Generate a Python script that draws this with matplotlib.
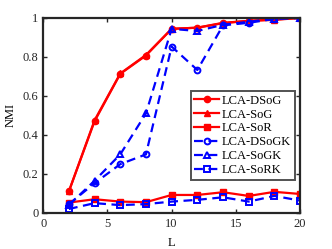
import matplotlib
matplotlib.use("Agg")
import matplotlib.pyplot as plt

plt.rcParams['font.family'] = ['Liberation Serif', 'DejaVu Serif']

# data
L = [2, 4, 6, 8, 10, 12, 14, 16, 18, 20]
dsog = [0.11, 0.47, 0.713, 0.807, 0.944, 0.95, 0.975, 0.985, 0.992, 1.0]
sog = [0.11, 0.475, 0.715, 0.81, 0.944, 0.95, 0.973, 0.985, 0.99, 1.0]
sor = [0.053, 0.07, 0.058, 0.055, 0.092, 0.092, 0.106, 0.087, 0.108, 0.097]
dsogk = [0.045, 0.152, 0.25, 0.30, 0.853, 0.733, 0.962, 0.975, 0.995, 1.0]
sogk = [0.04, 0.165, 0.30, 0.51, 0.944, 0.933, 0.965, 0.98, 0.997, 1.0]
sork = [0.02, 0.05, 0.04, 0.045, 0.058, 0.067, 0.08, 0.058, 0.087, 0.063]

fig = plt.figure(figsize=(3.32, 2.49), dpi=100)
ax = fig.add_axes([0.13, 0.145, 0.774, 0.783])

red = dict(color='red', lw=1.6, ms=4.5)
blue = dict(color='blue', lw=1.6, ls='--', dashes=(4, 2.5), ms=4.2, mfc='none', mew=1.4)

ax.plot(L, dsog, marker='o', label='LCA-DSoG', **red)
ax.plot(L, sog, marker='^', label='LCA-SoG', **red)
ax.plot(L, sor, marker='s', label='LCA-SoR', **red)
ax.plot(L, dsogk, marker='o', label='LCA-DSoGK', **blue)
ax.plot(L, sogk, marker='^', label='LCA-SoGK', **blue)
ax.plot(L, sork, marker='s', label='LCA-SoRK', **blue)

ax.set_xlim(0, 20)
ax.set_ylim(0, 1)
ax.set_xticks([0, 5, 10, 15, 20])
ax.set_yticks([0, 0.2, 0.4, 0.6, 0.8, 1])
ax.set_yticklabels(['0', '0.2', '0.4', '0.6', '0.8', '1'])
ax.tick_params(direction='in', top=True, right=True, labelsize=9, length=3, width=1, colors='#262626')
for s in ax.spines.values():
    s.set_linewidth(1.6)
    s.set_color('#262626')

ax.set_xlabel('L', fontsize=9, labelpad=5)
ax.set_ylabel('NMI', fontsize=9, labelpad=4)

leg = ax.legend(loc='lower right', bbox_to_anchor=(0.98, 0.17), fontsize=9,
                frameon=True, fancybox=False, handlelength=2.0, handletextpad=0.2,
                borderpad=0.3, labelspacing=0.15, borderaxespad=0)
leg.get_frame().set_edgecolor('#262626')
leg.get_frame().set_linewidth(1.4)

fig.savefig('out.png', dpi=100)
